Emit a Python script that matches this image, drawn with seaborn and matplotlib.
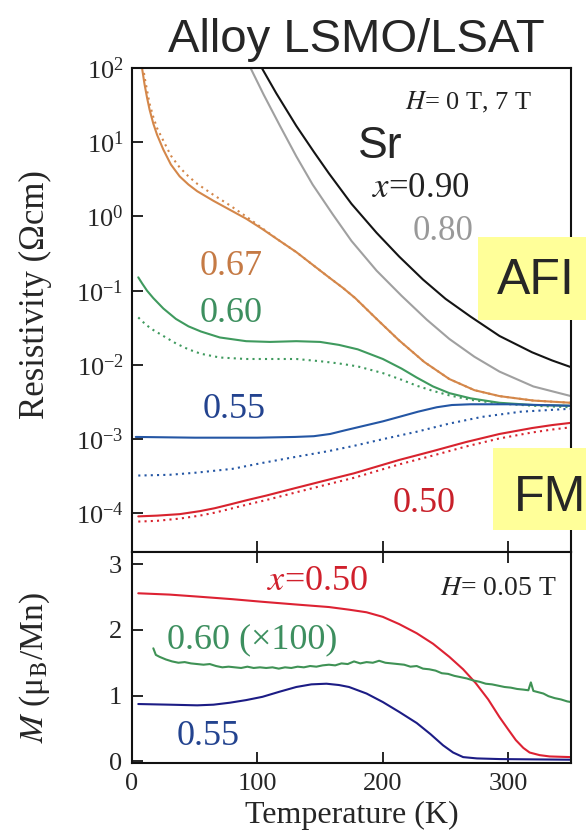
import numpy as np
import pandas as pd
import seaborn as sns
import matplotlib
matplotlib.use("Agg")
import matplotlib.pyplot as plt
from matplotlib.patches import Rectangle
from matplotlib.ticker import NullLocator

# ---------------- data ----------------
# top panel: log10 resistivity (Ohm cm) vs temperature (K); solid = 0 T, dotted = 7 T
T_090 = [100, 103.5, 115, 131, 145, 157, 175, 195, 213, 232, 250, 270, 293, 319, 335, 350]
lr_090 = [2.11, 2.00, 1.66, 1.22, 0.87, 0.58, 0.17, -0.22, -0.54, -0.85, -1.11, -1.35,
          -1.61, -1.83, -1.94, -2.03]

T_080 = [92, 94.5, 105, 118, 131, 144, 160, 175, 195, 215, 235, 253, 273, 293, 320, 350]
lr_080 = [2.09, 2.00, 1.64, 1.22, 0.81, 0.43, 0.03, -0.33, -0.73, -1.07, -1.39, -1.65,
          -1.89, -2.09, -2.29, -2.42]

T_067 = [6, 8, 10, 12, 14, 17, 20, 25, 31, 38, 45, 52, 65, 78, 91, 104, 117, 131, 144,
         157, 168, 178, 195, 213, 233, 253, 273, 293, 320, 350]
lr_067_0T = [2.20, 2.00, 1.78, 1.60, 1.44, 1.25, 1.10, 0.90, 0.70, 0.54, 0.43, 0.34, 0.21,
             0.09, -0.03, -0.17, -0.32, -0.48, -0.65, -0.82, -0.96, -1.10, -1.38, -1.67,
             -1.96, -2.19, -2.34, -2.42, -2.48, -2.51]
lr_067_7T = [2.35, 2.12, 1.88, 1.70, 1.52, 1.34, 1.19, 1.02, 0.82, 0.66, 0.54, 0.44, 0.29,
             0.15, 0.00, -0.16, -0.32, -0.48, -0.65, -0.82, -0.96, -1.10, -1.38, -1.67,
             -1.96, -2.19, -2.34, -2.42, -2.48, -2.51]

T_060 = [5, 8, 12, 17, 25, 35, 45, 55, 70, 91, 110, 131, 150, 165, 180, 200, 215, 227,
         240, 253, 270, 293, 320, 350]
lr_060_0T = [-0.82, -0.90, -1.00, -1.10, -1.24, -1.38, -1.48, -1.55, -1.63, -1.68, -1.69,
             -1.68, -1.69, -1.73, -1.79, -1.92, -2.05, -2.17, -2.29, -2.38, -2.45, -2.51,
             -2.54, -2.55]
lr_060_7T = [-1.36, -1.41, -1.47, -1.53, -1.61, -1.71, -1.79, -1.85, -1.90, -1.92, -1.92,
             -1.92, -1.95, -1.98, -2.02, -2.11, -2.20, -2.28, -2.35, -2.41, -2.47, -2.52,
             -2.55, -2.57]

T_055 = [3, 50, 100, 130, 145, 158, 170, 185, 200, 213, 228, 243, 255, 270, 300, 350]
lr_055_0T = [-2.97, -2.98, -2.98, -2.97, -2.96, -2.93, -2.88, -2.82, -2.76, -2.70, -2.63,
             -2.57, -2.54, -2.53, -2.53, -2.55]
T_055d = [5, 30, 52, 80, 104, 130, 157, 177, 200, 227, 253, 279, 310, 350]
lr_055_7T = [-3.49, -3.48, -3.45, -3.40, -3.32, -3.24, -3.16, -3.09, -3.00, -2.90, -2.79,
             -2.70, -2.63, -2.59]

T_050 = [5, 20, 38, 54, 66, 78, 92, 107, 130, 158, 177, 195, 213, 240, 266, 293, 319, 335, 350]
lr_050_0T = [-4.04, -4.03, -4.01, -3.97, -3.93, -3.88, -3.82, -3.76, -3.66, -3.54, -3.46,
             -3.37, -3.28, -3.16, -3.04, -2.93, -2.85, -2.81, -2.78]
lr_050_7T = [-4.11, -4.10, -4.07, -4.03, -3.99, -3.94, -3.88, -3.82, -3.72, -3.60, -3.52,
             -3.43, -3.34, -3.22, -3.10, -2.99, -2.91, -2.87, -2.84]

# bottom panel: magnetization (muB/Mn) at 0.05 T
T_M050 = [5, 30, 52, 80, 104, 130, 157, 173, 187, 200, 213, 227, 240, 253, 264, 274, 284,
          293, 300, 306, 312, 317, 325, 333, 350]
M_050 = [2.56, 2.54, 2.51, 2.47, 2.43, 2.39, 2.35, 2.31, 2.27, 2.20, 2.09, 1.95, 1.79, 1.59,
         1.40, 1.19, 0.94, 0.67, 0.48, 0.32, 0.20, 0.13, 0.09, 0.07, 0.06]

T_M055 = [5, 30, 52, 65, 78, 91, 104, 118, 131, 143, 155, 165, 173, 187, 200, 213, 227,
          238, 248, 256, 264, 275, 293, 350]
M_055 = [0.87, 0.86, 0.85, 0.86, 0.89, 0.93, 0.98, 1.06, 1.13, 1.17, 1.18, 1.16, 1.13, 1.03,
         0.90, 0.75, 0.58, 0.41, 0.24, 0.13, 0.06, 0.04, 0.03, 0.02]

T_M060 = [17, 19, 22, 27, 32, 37, 42, 47, 52, 57, 62, 67, 72, 77, 82, 87, 92, 97, 102,
          107, 112, 117, 122, 127, 132, 137, 142, 147, 152, 157, 162, 167, 172, 177, 182,
          187, 192, 197, 202, 207, 212, 217, 222, 227, 232, 237, 242, 247, 252, 257, 262,
          267, 272, 277, 282, 287, 292, 297, 302, 307, 312, 316, 318, 320, 324, 328, 332,
          337, 342, 347, 350]
M_060 = [1.72, 1.62, 1.59, 1.55, 1.52, 1.50, 1.51, 1.49, 1.48, 1.47, 1.48, 1.45, 1.43,
         1.44, 1.43, 1.42, 1.44, 1.42, 1.43, 1.42, 1.43, 1.41, 1.43, 1.42, 1.44, 1.43,
         1.45, 1.44, 1.46, 1.47, 1.46, 1.49, 1.48, 1.52, 1.49, 1.51, 1.50, 1.53, 1.50,
         1.49, 1.48, 1.47, 1.44, 1.45, 1.41, 1.40, 1.38, 1.34, 1.33, 1.30, 1.28, 1.26,
         1.23, 1.21, 1.18, 1.17, 1.15, 1.13, 1.12, 1.10, 1.09, 1.08, 1.20, 1.07, 1.05,
         1.03, 0.99, 0.96, 0.94, 0.91, 0.90]

yticks_top = [1e-4, 1e-3, 1e-2, 1e-1, 1e0, 1e1, 1e2]
yticks_bot = [0, 1, 2, 3]
xticks = [0, 100, 200, 300]

# ---------------- style ----------------
sns.set_style("ticks")
plt.rcParams["font.family"] = ["Liberation Serif", "DejaVu Serif"]
plt.rcParams["mathtext.fontset"] = "stix"
plt.rcParams["axes.unicode_minus"] = False

C = {
    "0.90": "#141414", "0.80": "#a0a0a0", "0.67": "#d4874a",
    "0.60": "#3f9a5e", "0.55": "#2456a4", "0.50": "#d8232e",
}
CB = {"0.50": "#dd2233", "0.55": "#1c1c85", "0.60": "#3f9255"}

W, H = 586, 834
def fx(x):
    return x / W
def fy(y):
    return 1 - y / H

fig = plt.figure(figsize=(W / 100, H / 100), dpi=100)
ax1 = fig.add_axes([fx(132), fy(552), (571 - 132) / W, (552 - 68) / H])
ax2 = fig.add_axes([fx(132), fy(763), (571 - 132) / W, (763 - 552) / H])

# ---------------- top panel ----------------
rows = []
def add(Ts, lrs, s, f):
    for t, v in zip(Ts, lrs):
        rows.append({"T": t, "rho": 10 ** v, "x": s, "field": f})

add(T_090, lr_090, "0.90", "0 T")
add(T_080, lr_080, "0.80", "0 T")
add(T_067, lr_067_0T, "0.67", "0 T")
add(T_067, lr_067_7T, "0.67", "7 T")
add(T_060, lr_060_0T, "0.60", "0 T")
add(T_060, lr_060_7T, "0.60", "7 T")
add(T_055, lr_055_0T, "0.55", "0 T")
add(T_055d, lr_055_7T, "0.55", "7 T")
add(T_050, lr_050_0T, "0.50", "0 T")
add(T_050, lr_050_7T, "0.50", "7 T")
df_top = pd.DataFrame(rows)

sns.lineplot(data=df_top, x="T", y="rho", hue="x", style="field", palette=C,
             dashes={"0 T": "", "7 T": (1, 2)}, estimator=None, legend=False,
             linewidth=1.5, ax=ax1)
ax1.set_yscale("log")
ax1.set_xlim(0, 350)
ax1.set_ylim(10 ** -4.52, 100)
ax1.set_yticks(yticks_top)
ax1.yaxis.set_minor_locator(NullLocator())
ax1.set_xticks(xticks)
ax1.tick_params(axis="both", direction="in", length=8, width=1.4, labelsize=19,
                labelbottom=False, top=False, right=False, pad=6)
ax1.set_xlabel("")
ax1.set_ylabel("")

# ---------------- bottom panel ----------------
rows = []
for t, v in zip(T_M050, M_050):
    rows.append({"T": t, "M": v, "x": "0.50"})
for t, v in zip(T_M055, M_055):
    rows.append({"T": t, "M": v, "x": "0.55"})
for t, v in zip(T_M060, M_060):
    rows.append({"T": t, "M": v, "x": "0.60"})
df_bot = pd.DataFrame(rows)
sns.lineplot(data=df_bot, x="T", y="M", hue="x", palette=CB, estimator=None,
             legend=False, linewidth=1.5, ax=ax2)
ax2.set_xlim(0, 350)
ax2.set_ylim(-0.03, 3.19)
ax2.set_yticks(yticks_bot)
ax2.set_xticks(xticks)
ax2.tick_params(axis="both", direction="in", length=8, width=1.4, labelsize=19,
                top=True, right=False, pad=7)
ax2.set_xlabel("")
ax2.set_ylabel("")

for ax in (ax1, ax2):
    for sp in ax.spines.values():
        sp.set_linewidth(1.5)
        sp.set_color("#111111")

# ---------------- texts ----------------
fig.text(fx(356), fy(52), "Alloy LSMO/LSAT", family="Liberation Sans", fontsize=34,
         ha="center", va="baseline")
fig.text(fx(35), fy(295), "Resistivity (\u03a9cm)", fontsize=25, rotation=90,
         ha="center", va="center")
fig.text(fx(35), fy(668), "$M$ (\u03bc$_{\\mathrm{B}}$/Mn)", fontsize=24, rotation=90,
         ha="center", va="center")
fig.text(fx(352), fy(823), "Temperature (K)", fontsize=23, ha="center", va="baseline")

def lab(x, y, s, color, size=26):
    fig.text(fx(x), fy(y), s, color=color, fontsize=size, ha="left", va="baseline")

lab(405, 109, "$H$= 0 T, 7 T", "#222222", 19)
fig.text(fx(358), fy(158), "Sr", family="Liberation Sans", fontsize=32,
         ha="left", va="baseline")
lab(372, 197, "$x$=0.90", "#222222", 25)
lab(413, 240, "0.80", "#999999", 25)
lab(200, 275, "0.67", "#c57a45")
lab(200, 322, "0.60", "#3d8f5f")
lab(203, 418, "0.55", "#23438f")
lab(393, 512, "0.50", "#c8202a")
lab(267, 590, "$x$=0.50", "#d0202c")
lab(440, 595, "$H$= 0.05 T", "#222222", 20)
lab(167, 648, "0.60 (\u00d7100)", "#3d8f5f")
lab(177, 745, "0.55", "#23438f")

# yellow phase boxes
fig.patches.append(Rectangle((fx(478), fy(320)), (586 - 478) / W, (320 - 237) / H,
                             transform=fig.transFigure, facecolor="#ffff99",
                             edgecolor="none", zorder=5))
fig.patches.append(Rectangle((fx(493), fy(530)), (586 - 493) / W, (530 - 448) / H,
                             transform=fig.transFigure, facecolor="#ffff99",
                             edgecolor="none", zorder=5))
fig.text(fx(497), fy(294), "AFI", family="Liberation Sans", fontsize=36,
         ha="left", va="baseline", zorder=6)
fig.text(fx(514), fy(511), "FM", family="Liberation Sans", fontsize=36,
         ha="left", va="baseline", zorder=6)

fig.savefig("out.png", dpi=100, facecolor="white")
